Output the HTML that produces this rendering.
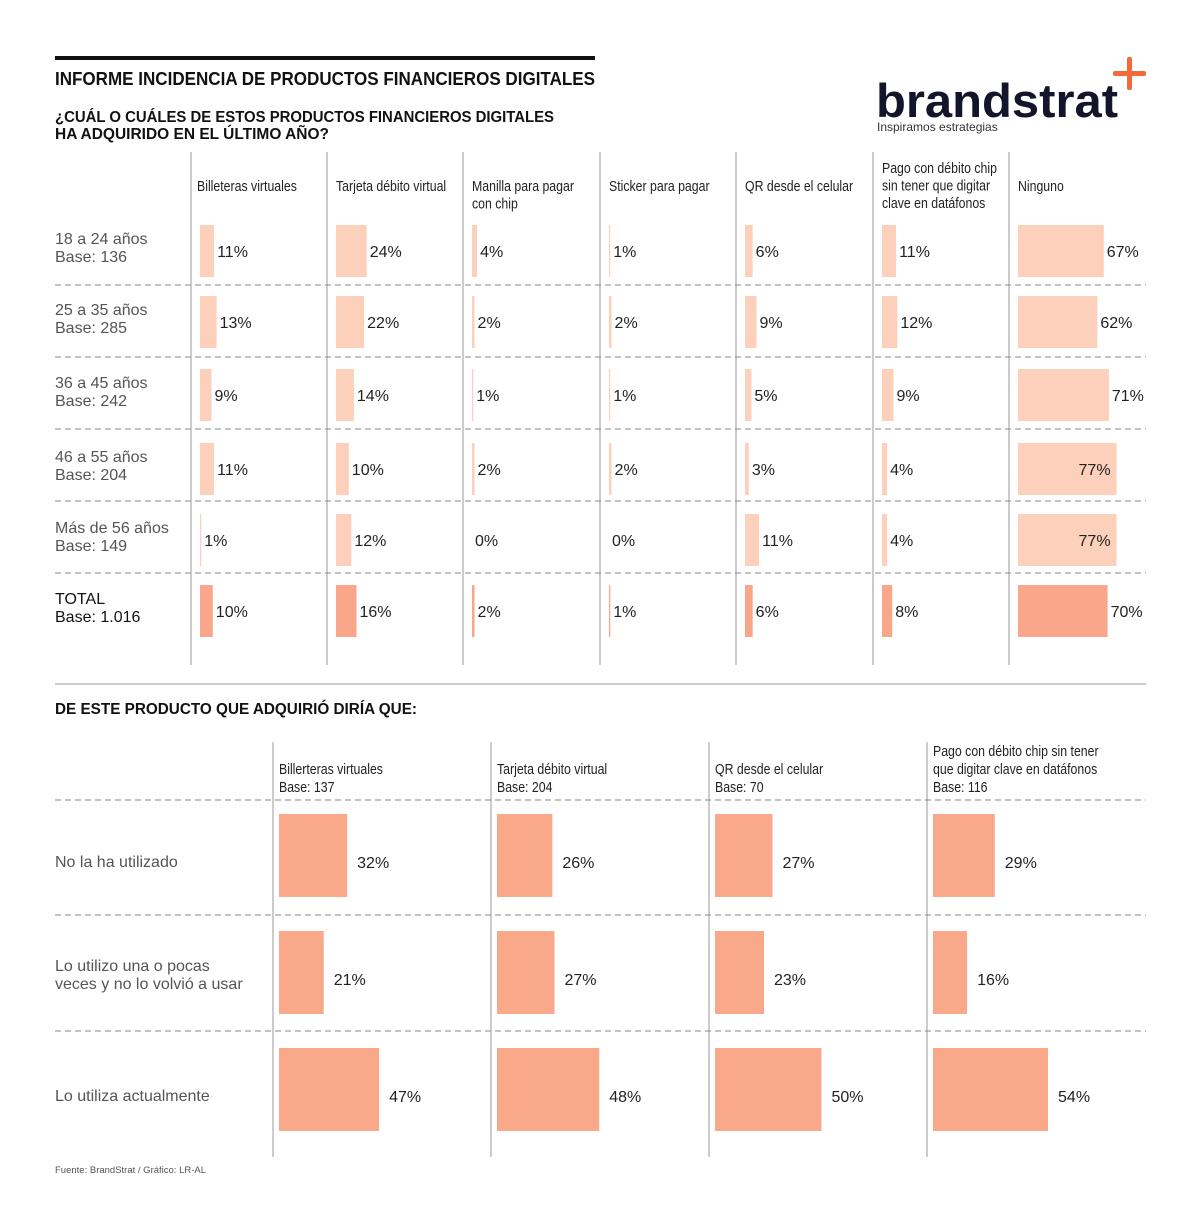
<!DOCTYPE html>
<html><head><meta charset="utf-8"><style>
html,body{margin:0;padding:0;background:#fff}
svg{display:block}
.n{font-family:"Liberation Sans Narrow","Liberation Sans",sans-serif}
.s{font-family:"Liberation Sans",sans-serif}
</style></head><body>
<svg id="chart" width="1200" height="1232" viewBox="0 0 1200 1232" xmlns="http://www.w3.org/2000/svg">
<rect x="55" y="56" width="540" height="4" fill="#111"/>
<text x="55" y="85" class="s" font-size="18" font-weight="bold" fill="#111" textLength="540" lengthAdjust="spacingAndGlyphs">INFORME INCIDENCIA DE PRODUCTOS FINANCIEROS DIGITALES</text>
<text x="55" y="122" class="s" font-size="16" font-weight="bold" fill="#111" textLength="499" lengthAdjust="spacingAndGlyphs">¿CUÁL O CUÁLES DE ESTOS PRODUCTOS FINANCIEROS DIGITALES</text>
<text x="55" y="139" class="s" font-size="16" font-weight="bold" fill="#111" textLength="274" lengthAdjust="spacingAndGlyphs">HA ADQUIRIDO EN EL ÚLTIMO AÑO?</text>
<g>
<text x="876" y="117" class="s" font-size="47" font-weight="bold" fill="#14142a" textLength="242" lengthAdjust="spacingAndGlyphs">brandstrat</text>
<text x="877" y="131" class="s" font-size="12" fill="#333">Inspiramos estrategias</text>
<rect x="1127" y="57" width="5" height="33" rx="2" fill="#f26a3a"/>
<rect x="1113" y="71" width="33" height="5" rx="2" fill="#f26a3a"/>
</g>
<g id="top"></g>
<line x1="55" y1="684" x2="1146" y2="684" stroke="#999" stroke-width="1"/>
<text x="55" y="714" class="s" font-size="16" font-weight="bold" fill="#111" textLength="362" lengthAdjust="spacingAndGlyphs">DE ESTE PRODUCTO QUE ADQUIRIÓ DIRÍA QUE:</text>
<g id="bottom"></g>
<text x="55" y="1173" class="s" font-size="9.5" fill="#555">Fuente: BrandStrat / Gráfico: LR-AL</text>
</svg>
<script>
const topCategories=[["Billeteras virtuales"],["Tarjeta débito virtual"],["Manilla para pagar","con chip"],["Sticker para pagar"],["QR desde el celular"],["Pago con débito chip","sin tener que digitar","clave en datáfonos"],["Ninguno"]];
const topRows=[["18 a 24 años","Base: 136"],["25 a 35 años","Base: 285"],["36 a 45 años","Base: 242"],["46 a 55 años","Base: 204"],["Más de 56 años","Base: 149"],["TOTAL","Base: 1.016"]];
const v18=[11,24,4,1,6,11,67];
const v25=[13,22,2,2,9,12,62];
const v36=[9,14,1,1,5,9,71];
const v46=[11,10,2,2,3,4,77];
const v56=[1,12,0,0,11,4,77];
const vTotal=[10,16,2,1,6,8,70];
const topValues=[v18,v25,v36,v46,v56,vTotal];
const botCategories=[["Billerteras virtuales","Base: 137"],["Tarjeta débito virtual","Base: 204"],["QR desde el celular","Base: 70"],["Pago con débito chip sin tener","que digitar clave en datáfonos","Base: 116"]];
const botRows=[["No la ha utilizado"],["Lo utilizo una o pocas","veces y no lo volvió a usar"],["Lo utiliza actualmente"]];
const bBilleteras=[32,21,47];
const bTarjeta=[26,27,48];
const bQR=[27,23,50];
const bPago=[29,16,54];
const botValues=[bBilleteras,bTarjeta,bQR,bPago];

const NS="http://www.w3.org/2000/svg";
function mk(parent,tag,attrs,txt){const e=document.createElementNS(NS,tag);for(const k in attrs)e.setAttribute(k,attrs[k]);if(txt!==undefined)e.textContent=txt;parent.appendChild(e);return e;}
function narrow(e,x){e.setAttribute('transform','translate('+x+',0) scale(0.85,1)');e.setAttribute('x',0);}

// TOP
const gt=document.getElementById('top');
const tSep=[191,327,463,600,736,873,1009];
const tRowC=[251,322,395,469,540,611];
const tDash=[285,357,429,501,573];
const tScale=v=>v*1.28;
tSep.forEach((x,i)=>{const l=mk(gt,'line',{x1:x,y1:152,x2:x,y2:665,stroke:'#999','stroke-width':1});

});
tDash.forEach(y=>{const l=mk(gt,'line',{x1:55,y1:y,x2:1146,y2:y,stroke:'#888','stroke-width':1,'stroke-dasharray':'6 4'});

});
topCategories.forEach((lines,i)=>{const y0=lines.length===3?168:186;lines.forEach((t,j)=>{const e=mk(gt,'text',{x:0,y:y0+j*17.5+5,'font-size':14.5,fill:'#222',class:'s'},t);
narrow(e,tSep[i]+(i===0?6:9));

});});
topRows.forEach((lines,r)=>{const tot=r===5;lines.forEach((t,j)=>{const e=mk(gt,'text',{x:55,y:tRowC[r]-7+j*18,'font-size':16,fill:tot?'#111':'#555',class:'s'},t);

});
topValues[r].forEach((v,c)=>{const x=tSep[c]+9;const w=tScale(v);
if(v>0){const b=mk(gt,'rect',{x:x,y:tRowC[r]-26,width:w,height:52,fill:tot?'#f9a68a':'#fdd0bb'});

}
let lx=x+w+3,anchor='start';if(lx+34>1146){lx=x+w-6;anchor='end';}
const e=mk(gt,'text',{x:lx,y:tRowC[r]+6,'font-size':16,fill:'#222',class:'s','text-anchor':anchor},v+'%');

});});

// BOTTOM
const gb=document.getElementById('bottom');
const bSep=[273,491,709,927];
const bRowC=[855,972,1089];
const bDash=[800,915,1031];
const bScale=v=>v*2.13;
bSep.forEach(x=>{const l=mk(gb,'line',{x1:x,y1:742,x2:x,y2:1157,stroke:'#999','stroke-width':1});

});
bDash.forEach(y=>{const l=mk(gb,'line',{x1:55,y1:y,x2:1146,y2:y,stroke:'#888','stroke-width':1,'stroke-dasharray':'6 4'});

});
botCategories.forEach((lines,i)=>{const y0=787-(lines.length-1)*18;lines.forEach((t,j)=>{const e=mk(gb,'text',{x:0,y:y0+j*18+5,'font-size':14.5,fill:'#222',class:'s'},t);
narrow(e,bSep[i]+6);

});});
botRows.forEach((lines,r)=>{const y0=bRowC[r]+12-(lines.length-1)*13;lines.forEach((t,j)=>{const e=mk(gb,'text',{x:55,y:y0+j*18,'font-size':16,fill:'#555',class:'s'},t);

});});
botValues.forEach((vals,c)=>{vals.forEach((v,r)=>{const x=bSep[c]+6;const w=bScale(v);
const b=mk(gb,'rect',{x:x,y:bRowC[r]-41,width:w,height:83,fill:'#f9a88a'});


const e=mk(gb,'text',{x:x+w+10,y:bRowC[r]+13,'font-size':16,fill:'#222',class:'s'},v+'%');

});});
</script>
</body></html>
